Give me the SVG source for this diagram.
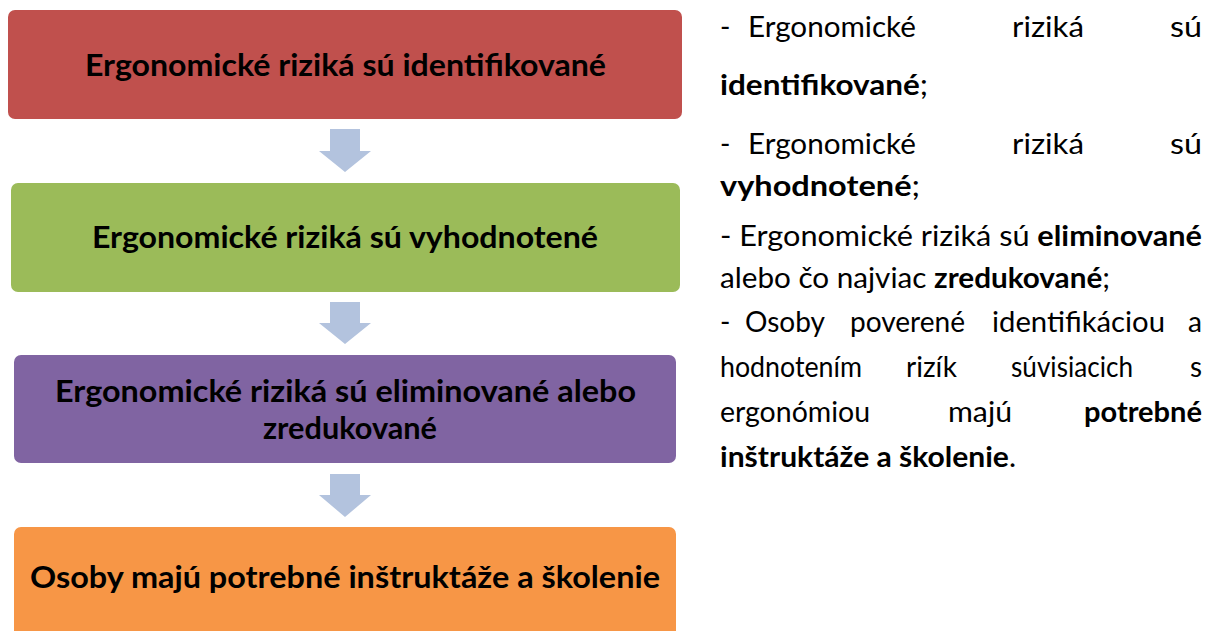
<svg xmlns="http://www.w3.org/2000/svg" width="1214" height="631" viewBox="0 0 1214 631">
<defs>
<style>
.box{stroke:none}
.bt{font-family:Lato,"Open Sans","Liberation Sans",sans-serif;font-weight:bold;font-size:31px;fill:#000;text-anchor:middle}
.rt{font-family:Lato,"Open Sans","Liberation Sans",sans-serif;font-size:28px;fill:#000}
.b{font-weight:bold}
.arrow{fill:#B3C3DE}
</style>
</defs>
<rect width="1214" height="631" fill="#fff"/>
<g id="node1">
<rect class="box" x="8" y="10" width="674" height="109" rx="7" fill="#C0504D"/>
<text class="bt" x="345.5" y="76" textLength="521" lengthAdjust="spacingAndGlyphs">Ergonomické riziká sú identifikované</text>
</g>
<g id="node2">
<rect class="box" x="11" y="183" width="669" height="109" rx="7" fill="#9BBB59"/>
<text class="bt" x="345" y="248" textLength="506" lengthAdjust="spacingAndGlyphs">Ergonomické riziká sú vyhodnotené</text>
</g>
<g id="node3">
<rect class="box" x="14" y="355" width="662" height="108" rx="7" fill="#8064A2"/>
<text class="bt" x="345.5" y="402" textLength="581" lengthAdjust="spacingAndGlyphs">Ergonomické riziká sú eliminované alebo</text>
<text class="bt" x="350" y="439" textLength="174" lengthAdjust="spacingAndGlyphs">zredukované</text>
</g>
<g id="node4">
<rect class="box" x="14" y="527" width="662" height="120" rx="7" fill="#F79646"/>
<text class="bt" x="345" y="588" textLength="630" lengthAdjust="spacingAndGlyphs">Osoby majú potrebné inštruktáže a školenie</text>
</g>
<g id="connectors">
<polygon class="arrow" points="330,129 360,129 360,151 371,151 345,172 319,151 330,151"/>
<polygon class="arrow" points="330,302 360,302 360,323 371,323 345,344 319,323 330,323"/>
<polygon class="arrow" points="330,474 360,474 360,495 371,495 345,517 319,495 330,495"/>
</g>
<g id="description">
<text class="rt" x="720" y="37">-</text>
<text class="rt" x="748" y="37" textLength="168" lengthAdjust="spacingAndGlyphs">Ergonomické</text>
<text class="rt" x="1012" y="37" textLength="72" lengthAdjust="spacingAndGlyphs">riziká</text>
<text class="rt" x="1170" y="37" textLength="32" lengthAdjust="spacingAndGlyphs">sú</text>
<text class="rt" x="720" y="95" textLength="208" lengthAdjust="spacingAndGlyphs"><tspan class="b">identifikované</tspan>;</text>
<text class="rt" x="720" y="154">-</text>
<text class="rt" x="748" y="154" textLength="168" lengthAdjust="spacingAndGlyphs">Ergonomické</text>
<text class="rt" x="1012" y="154" textLength="72" lengthAdjust="spacingAndGlyphs">riziká</text>
<text class="rt" x="1170" y="154" textLength="32" lengthAdjust="spacingAndGlyphs">sú</text>
<text class="rt" x="720" y="196" textLength="200" lengthAdjust="spacingAndGlyphs"><tspan class="b">vyhodnotené</tspan>;</text>
<text class="rt" x="720" y="246" textLength="482" lengthAdjust="spacingAndGlyphs">-  Ergonomické riziká sú <tspan class="b">eliminované</tspan></text>
<text class="rt" x="720" y="288" textLength="390" lengthAdjust="spacingAndGlyphs">alebo čo najviac <tspan class="b">zredukované</tspan>;</text>
<text class="rt" x="720" y="332">-</text>
<text class="rt" x="745" y="332" textLength="80" lengthAdjust="spacingAndGlyphs">Osoby</text>
<text class="rt" x="850" y="332" textLength="115" lengthAdjust="spacingAndGlyphs">poverené</text>
<text class="rt" x="992" y="332" textLength="173" lengthAdjust="spacingAndGlyphs">identifikáciou</text>
<text class="rt" x="1188" y="332" textLength="14" lengthAdjust="spacingAndGlyphs">a</text>
<text class="rt" x="720" y="377" textLength="142" lengthAdjust="spacingAndGlyphs">hodnotením</text>
<text class="rt" x="906" y="377">rizík</text>
<text class="rt" x="1011" y="377" textLength="122" lengthAdjust="spacingAndGlyphs">súvisiacich</text>
<text class="rt" x="1190" y="377" textLength="12" lengthAdjust="spacingAndGlyphs">s</text>
<text class="rt" x="720" y="422" textLength="150" lengthAdjust="spacingAndGlyphs">ergonómiou</text>
<text class="rt" x="948" y="422" textLength="64" lengthAdjust="spacingAndGlyphs">majú</text>
<text class="rt b" x="1084" y="422" textLength="118" lengthAdjust="spacingAndGlyphs">potrebné</text>
<text class="rt" x="720" y="467" textLength="296" lengthAdjust="spacingAndGlyphs"><tspan class="b">inštruktáže a školenie</tspan>.</text>
</g>
</svg>
